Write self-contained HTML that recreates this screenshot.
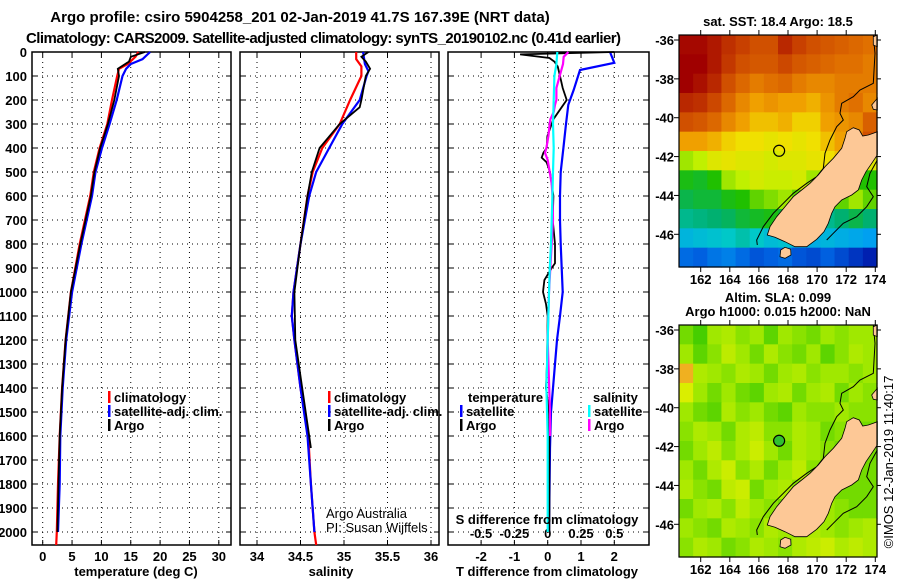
<!DOCTYPE html>
<html><head><meta charset="utf-8">
<style>
html,body{margin:0;padding:0;background:#fff;}
svg{display:block;font-family:"Liberation Sans",sans-serif;}
.b{font-weight:bold;font-size:13px;}
</style></head>
<body>
<svg id="fig" width="900" height="580" viewBox="0 0 900 580">
<text x="300" y="22" text-anchor="middle" font-weight="bold" font-size="15">Argo profile: csiro 5904258_201 02-Jan-2019 41.7S 167.39E (NRT data)</text>
<text x="26" y="43" font-weight="bold" font-size="15" textLength="595">Climatology: CARS2009. Satellite-adjusted climatology: synTS_20190102.nc (0.41d earlier)</text>
<g id="layer"></g>
</svg>
<script>
// ---- data ----
const tempDepth=[0,20,50,70,100,200,300,400,500,600,800,1000,1200,1400,1600,1800,2000,2054];
const tempClim=[16.3,15.8,14.5,13.0,12.7,11.8,11.0,9.7,8.7,8.1,6.3,4.8,3.9,3.3,2.9,2.6,2.4,2.3];
const tempSatDepth=[0,30,50,70,100,200,300,400,500,600,800,1000,1200,1400,1600,1800,2000];
const tempSat=[18.3,17.0,15.0,14.2,13.6,12.6,11.4,10.1,9.0,8.4,6.6,5.0,4.0,3.4,3.0,2.9,2.6];
const tempArgoDepth=[0,20,40,70,100,200,300,400,500,600,800,1000,1200,1400,1600,1800,2000];
const tempArgo=[17.4,15.0,14.7,12.8,13.0,12.2,11.1,9.8,8.8,8.2,6.4,4.8,3.9,3.3,2.9,2.7,2.5];

const salDepth=[0,30,60,100,200,300,400,500,600,800,1000,1100,1200,1400,1600,1800,2000,2054];
const salClim=[35.14,35.14,35.2,35.2,35.07,34.95,34.75,34.64,34.58,34.5,34.42,34.40,34.43,34.5,34.59,34.62,34.66,34.68];
const salSatDepth=[0,50,80,100,200,300,400,500,600,800,1000,1100,1200,1400,1600,1800,2000];
const salSat=[35.22,35.24,35.28,35.26,35.18,34.98,34.83,34.68,34.6,34.5,34.42,34.4,34.43,34.5,34.58,34.62,34.66];
const salArgoDepth=[0,20,40,70,100,200,230,300,400,500,600,800,1000,1200,1400,1600,1650];
const salArgo=[35.28,35.2,35.25,35.3,35.25,35.2,35.18,34.95,34.72,34.63,34.58,34.5,34.43,34.44,34.52,34.6,34.62];

const dTSatDepth=[0,45,75,158,220,300,400,500,600,700,800,900,1000,1100,1200,1300,1400,1500,1650,2000];
const dTSat=[1.87,2.0,0.97,0.78,0.62,0.55,0.47,0.39,0.37,0.37,0.39,0.42,0.45,0.37,0.28,0.22,0.16,0.10,0.07,0.04];
const dTArgoDepth=[0,10,25,40,60,100,150,200,230,280,300,350,400,420,440,460,500,600,700,800,880,900,950,1000,1050,1100,1300,1400,1500,1600,1800,2000];
const dTArgo=[2.0,-0.83,0.05,0.2,0.3,0.37,0.45,0.57,0.42,0.17,0.12,-0.01,-0.03,-0.13,-0.18,-0.03,0.07,0.17,0.15,0.22,0.22,0.12,-0.1,-0.14,-0.05,0.0,-0.02,-0.05,0.04,0.05,0.05,0.05];
const dSArgoDepth=[0,20,50,100,150,200,220,250,280,300,350,400,420,450,500,550,600,700,1000,1200,1500,1600];
const dSArgo=[0.155,0.12,0.115,0.09,0.065,0.065,0.055,0.045,0.02,0.015,0.005,-0.01,-0.02,0.0,0.015,0.03,0.036,0.04,0.01,0.0,0.017,0.017];
const dSSatDepth=[0,50,100,200,300,400,500,600,700,800,900,1000,1200,1400,1600,2000];
const dSSat=[0.072,0.065,0.05,0.045,0.04,0.045,0.04,0.035,0.03,0.025,0.016,0.01,0.0,-0.01,0.0,0.0];

const depthTicks=[0,100,200,300,400,500,600,700,800,900,1000,1100,1200,1300,1400,1500,1600,1700,1800,1900,2000];
const tempTicks=[0,5,10,15,20,25,30];
const salTicks=[34,34.5,35,35.5,36];
const salTickLabels=["34","34.5","35","35.5","36"];
const dTTicks=[-2,-1,0,1,2];
const dSTicks=[-0.5,-0.25,0,0.25,0.5];
const dSTickLabels=["-0.5","-0.25","0","0.25","0.5"];
const lonTicks=[162,164,166,168,170,172,174];
const latTicks=[-36,-38,-40,-42,-44,-46];
const argoLon=167.39, argoLat=-41.7;

const sstGrid=[
[19.9,19.9,19.7,19.4,19.2,19.0,19.0,19.5,19.2,19.0,18.9,18.8,18.7,18.6],
[20.0,20.0,19.7,19.3,19.0,18.9,18.9,19.1,18.9,18.8,18.7,18.6,18.6,18.5],
[20.0,19.8,19.5,19.0,18.7,18.5,18.6,18.7,18.5,18.4,18.4,18.5,18.5,18.5],
[19.5,19.4,19.1,18.7,18.4,18.2,18.3,18.2,18.2,18.1,18.3,18.5,18.6,18.4],
[19.0,18.9,18.7,18.4,18.2,18.0,18.0,18.1,17.9,17.9,18.2,18.3,18.4,18.8],
[18.2,18.2,18.1,17.9,17.8,17.8,17.7,17.8,17.7,17.8,18.0,18.2,18.5,19.0],
[17.2,17.3,17.6,17.7,17.6,17.6,17.5,17.6,17.6,17.7,17.8,18.0,17.8,17.6],
[16.7,16.6,16.8,17.2,17.3,17.5,17.4,17.4,17.5,17.2,17.0,17.0,16.8,16.8],
[16.4,16.5,16.5,16.7,16.8,17.0,17.1,17.2,17.0,16.8,16.5,17.0,17.2,17.0],
[16.0,16.1,16.2,16.3,16.5,16.6,16.7,16.5,16.3,16.2,16.0,16.2,16.4,16.2],
[15.3,15.4,15.5,15.6,15.8,15.6,15.4,15.5,15.3,15.2,15.3,15.2,15.1,15.0],
[14.5,14.4,14.6,14.7,14.5,14.3,14.4,14.5,14.3,14.2,14.4,14.2,14.0,13.8]];
const slaGrid=[
[.3,.1,.5,.6,.4,.5,.2,.5,.4,.3,.5,.4,.5,.5],
[.5,.2,.4,.7,.5,.3,.6,.4,.3,.5,.2,.4,.6,.5],
[1.3,.6,.5,.4,.6,.5,.3,.5,.6,.4,.5,.5,.4,.5],
[.9,.5,.3,.5,.3,.2,.5,.6,.3,.5,.6,.3,.5,.4],
[.5,.3,.2,.6,.4,.5,.3,.2,.5,.4,.4,.5,.4,.4],
[.4,.6,.5,.3,.6,.7,.4,.4,.6,.5,.3,.4,.3,.3],
[.3,.5,.7,.4,.6,.8,.5,.3,.6,.5,.4,.3,.3,.3],
[.5,.3,.6,.8,.4,.6,.3,.5,.7,.4,.3,.3,.3,.3],
[.6,.4,.3,.7,.8,.3,.5,.6,.4,.3,.4,.3,.3,.3],
[.3,.5,.6,.4,.7,.5,.4,.3,.5,.6,.5,.4,.3,.3],
[.5,.4,.3,.6,.5,.4,.6,.5,.4,.6,.5,.4,.5,.6],
[.4,.6,.5,.3,.4,.6,.5,.4,.6,.7,.8,.6,.7,.6]];

// ---- drawing ----
const NS="http://www.w3.org/2000/svg";
const layer=document.getElementById('layer');
function mk(tag,attrs,parent){const e=document.createElementNS(NS,tag);for(const k in attrs)e.setAttribute(k,attrs[k]);(parent||layer).appendChild(e);return e;}
function txt(x,y,s,cls,anchor,parent){const t=mk('text',{x:x,y:y,'text-anchor':anchor||'start'},parent);if(cls)t.setAttribute('class',cls);t.textContent=s;return t;}

const pTop=52,pBot=545;
const yD=d=>pTop+d*0.24;
const panels=[
 {l:32,r:231,name:'temperature'},
 {l:240,r:439,name:'salinity'},
 {l:448,r:649,name:'difference'}];
const xT=v=>42.7+(v-0)*5.87;
const xS=v=>257+(v-34)*87;
const xdT=v=>547.7+v*33.3;
const xdS=v=>547.7+v*133.3;

panels.forEach((p,i)=>{
  const g=mk('g',{});
  
  
  depthTicks.forEach(d=>{const y=yD(d);if(d>0)mk('line',{x1:p.l,x2:p.r,y1:y,y2:y,stroke:'#000','stroke-width':1,'stroke-dasharray':'1,4'},g);
    mk('line',{x1:p.l,x2:p.l+5,y1:y,y2:y,stroke:'#000'},g);mk('line',{x1:p.r-5,x2:p.r,y1:y,y2:y,stroke:'#000'},g);});
  p.g=g;
});
depthTicks.forEach(d=>{const t=txt(27,yD(d)+5,String(d),'b','end');});
function vgrid(p,xs,labels,ylab){xs.forEach((v,i)=>{const x=v;mk('line',{x1:x,x2:x,y1:pTop,y2:pBot,stroke:'#000','stroke-dasharray':'1,4'},p.g);
  mk('line',{x1:x,x2:x,y1:pBot-5,y2:pBot,stroke:'#000'},p.g);mk('line',{x1:x,x2:x,y1:pTop,y2:pTop+5,stroke:'#000'},p.g);
  if(labels){const t=txt(x,ylab,labels[i],'b','middle');}});}
vgrid(panels[0],tempTicks.map(xT),tempTicks.map(String),561);
vgrid(panels[1],salTicks.map(xS),salTickLabels,561);
vgrid(panels[2],dTTicks.map(xdT),dTTicks.map(String),561);
dSTicks.forEach((v,i)=>{const t=txt(xdS(v),538,dSTickLabels[i],'b','middle');});
panels.forEach(p=>mk('rect',{x:p.l,y:pTop,width:p.r-p.l,height:pBot-pTop,fill:'none',stroke:'#000','stroke-width':1.5},p.g));

function drawLine(depths,vals,fx,color,name,w){const pts=depths.map((d,i)=>fx(vals[i]).toFixed(1)+','+yD(d).toFixed(1)).join(' ');
  const e=mk('polyline',{points:pts,fill:'none',stroke:color,'stroke-width':w||2.2});
  
  }
drawLine(tempDepth,tempClim,xT,'#ff0000','temp-climatology-line');
drawLine(tempSatDepth,tempSat,xT,'#0000ff','temp-satellite-line');
drawLine(tempArgoDepth,tempArgo,xT,'#000','temp-argo-line',1.8);
drawLine(salDepth,salClim,xS,'#ff0000','sal-climatology-line');
drawLine(salSatDepth,salSat,xS,'#0000ff','sal-satellite-line');
drawLine(salArgoDepth,salArgo,xS,'#000','sal-argo-line',1.8);
drawLine(dTSatDepth,dTSat,xdT,'#0000ff','dt-satellite-line');
drawLine(dTArgoDepth,dTArgo,xdT,'#000','dt-argo-line',1.8);
drawLine(dSArgoDepth,dSArgo,xdS,'#ff00ff','ds-argo-line');
drawLine(dSSatDepth,dSSat,xdS,'#00ffff','ds-satellite-line');

[[136,'temperature (deg C)'],[331,'salinity'],[547,'T difference from climatology']].forEach(a=>{const t=txt(a[0],576,a[1],'b','middle');});
{const t=txt(547,524,'S difference from climatology','b','middle');}
function leg(x,y,color,label,name){const g=mk('g',{});
  mk('rect',{x:x,y:y-11,width:2.5,height:12,fill:color},g);txt(x+6,y,label,'b','start',g);}
[[108,'climatology','#ff0000'],[108,'satellite-adj. clim.','#0000ff'],[108,'Argo','#000']].forEach((a,i)=>leg(a[0],402+i*14,a[2],a[1],'temp-legend-entry'));
[[328,'climatology','#ff0000'],[328,'satellite-adj. clim.','#0000ff'],[328,'Argo','#000']].forEach((a,i)=>leg(a[0],402+i*14,a[2],a[1],'sal-legend-entry'));
{const t=txt(468,402,'temperature','b');
 const s=txt(593,402,'salinity','b');}
leg(460,416,'#0000ff','satellite','diff-legend-entry');leg(460,430,'#000','Argo','diff-legend-entry');
leg(588,416,'#00ffff','satellite','diff-legend-entry');leg(588,430,'#ff00ff','Argo','diff-legend-entry');
{const a=txt(326,518,'Argo Australia','','start');a.setAttribute('font-size','13');
 const b=txt(326,532,'PI: Susan Wijffels','','start');b.setAttribute('font-size','13');}

// ---- maps ----
const mL=679,mR=877;
const lonX=lon=>700.7+(lon-162)*14.55;
const latY=(lat,off)=>40+off+(-36-lat)*19.43;
function interp(st,v){if(v<=st[0][0])return 'rgb('+st[0][1]+')';for(let i=1;i<st.length;i++){if(v<=st[i][0]){const f=(v-st[i-1][0])/(st[i][0]-st[i-1][0]);const c=st[i-1][1].map((a,j)=>Math.round(a+(st[i][1][j]-a)*f));return 'rgb('+c+')';}}return 'rgb('+st[st.length-1][1]+')';}
function sstColor(v){return interp([[13.8,[0,32,176]],[14.4,[0,96,224]],[15.0,[0,160,240]],[15.6,[0,200,200]],[16.2,[0,176,112]],[16.8,[32,192,0]],[17.3,[192,240,0]],[17.8,[240,224,0]],[18.2,[240,160,0]],[18.6,[224,112,0]],[19.2,[200,64,0]],[20.0,[160,0,0]]],v);}
function slaColor(v){return interp([[0,[48,200,0]],[0.5,[160,232,0]],[1.0,[232,240,0]],[1.3,[240,176,32]]],v);}
const landPts=[[560,395],[580,383],[598,390],[608,408],[625,405],[640,400],[652,395],[652,465],[635,490],[618,515],[605,540],[595,570],[575,585],[545,600],[525,620],[515,640],[505,670],[492,695],[470,718],[440,740],[405,740],[375,725],[345,712],[322,705],[330,680],[350,650],[375,620],[400,590],[425,570],[450,550],[475,525],[495,500],[520,475],[545,445],[555,415]];
const stewart=[[362,750],[375,742],[392,748],[393,765],[375,775],[360,770]];
const ni1=[[640,110],[652,105],[652,140],[640,135]];
const ni2=[[635,315],[652,295],[652,330],[640,328]];
const iso1=[[640,105],[645,160],[640,250],[600,270],[580,290],[545,310],[540,340],[550,360],[530,380],[510,420],[495,460],[490,505],[470,530],[440,550],[400,580],[370,610],[340,640],[310,680],[290,720],[292,735]];
const iso2=[[652,480],[630,520],[620,560],[640,590],[620,620],[590,650],[550,670],[520,700],[500,720]];
function pp(a,off){return a.map(p=>(660+p[0]/3).toFixed(1)+','+(p[1]/3+off).toFixed(1)).join(' ');}
function drawMap(grid,colorFn,off,name,filled){
  const g=mk('g',{});
  const mT=35+off,mB=267+off;const rows=grid.length,cols=grid[0].length;const cw=(mR-mL)/cols,ch=(mB-mT)/rows;
  grid.forEach((row,r)=>row.forEach((v,c)=>{const e=mk('rect',{x:(mL+c*cw).toFixed(2),y:(mT+r*ch).toFixed(2),width:(cw+0.6).toFixed(2),height:(ch+0.6).toFixed(2),fill:colorFn(v)},g);
    
    }));
  [iso1,iso2].forEach(a=>mk('polyline',{points:pp(a,off),fill:'none',stroke:'#000','stroke-width':1},g));
  [landPts,stewart,ni1,ni2].forEach(a=>mk('polygon',{points:pp(a,off),fill:'#fdc896',stroke:'#000','stroke-width':0.8},g));
  const c=mk('circle',{cx:lonX(argoLon),cy:latY(argoLat,off),r:5.5,fill:filled?'#30c030':'none',stroke:'#000','stroke-width':1.2},g);
  
  mk('rect',{x:mL,y:mT,width:mR-mL,height:mB-mT,fill:'none',stroke:'#000','stroke-width':1.2},g);
  lonTicks.forEach(lon=>{const x=lonX(lon);mk('line',{x1:x,x2:x,y1:mT-5,y2:mT,stroke:'#000'},g);mk('line',{x1:x,x2:x,y1:mB,y2:mB+5,stroke:'#000'},g);
    const t=txt(x,mB+17,String(lon),'b','middle',g);});
  latTicks.forEach(lat=>{const y=latY(lat,off);mk('line',{x1:mL-5,x2:mL,y1:y,y2:y,stroke:'#000'},g);mk('line',{x1:mR,x2:mR+4,y1:y,y2:y,stroke:'#000'},g);
    const t=txt(674,y+5,String(lat),'b','end',g);});
}
drawMap(sstGrid,sstColor,0,'sst-map',false);
drawMap(slaGrid,slaColor,290,'sla-map',true);
{const t=txt(778,26,'sat. SST: 18.4 Argo: 18.5','b','middle');}
{const t=txt(778,302,'Altim. SLA: 0.099','b','middle');}
{const t=txt(778,316,'Argo h1000: 0.015 h2000: NaN','b','middle');}
{const t=txt(0,0,'©IMOS 12-Jan-2019 11:40:17','','middle');t.setAttribute('font-size','13');t.setAttribute('transform','translate(893,462) rotate(-90)');}
</script>
</body></html>
